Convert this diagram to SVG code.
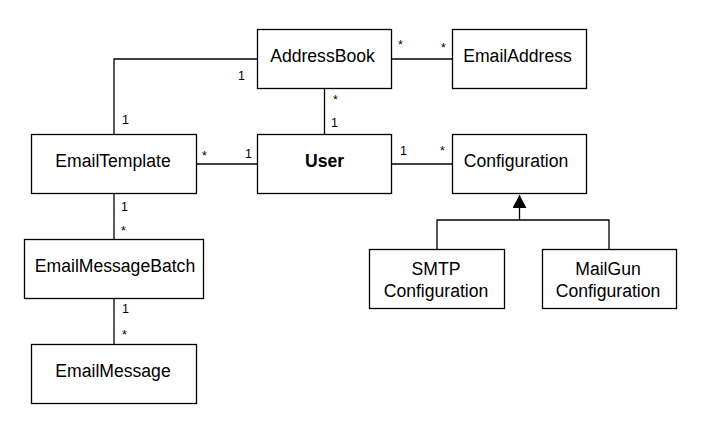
<svg xmlns="http://www.w3.org/2000/svg" width="709" height="433" viewBox="0 0 709 433">
<defs>
<style>
.box{fill:#fff;stroke:#000;stroke-width:1.3}
.lbl{font-family:"Liberation Sans",Arial,sans-serif;font-size:17.6px;fill:#000;text-anchor:middle}
.b{font-weight:bold}
.m{font-family:"Liberation Sans",Arial,sans-serif;font-size:12.5px;fill:#000}
.c{fill:none;stroke:#000;stroke-width:1.3}
</style>
<marker id="tri" viewBox="0 0 14 14" refX="13" refY="7" markerWidth="14" markerHeight="14" markerUnits="userSpaceOnUse" orient="auto">
<path d="M0,0 L13,7 L0,14 Z" fill="#000"/>
</marker>
</defs>
<rect width="709" height="433" fill="#fff"/>
<g id="connectors">
<path class="c" d="M392,59 H452"/>
<path class="c" d="M324.5,89 V134"/>
<path class="c" d="M197,164 H257"/>
<path class="c" d="M392,164 H452"/>
<path class="c" d="M114,134 V59 H257"/>
<path class="c" d="M114,194 V239"/>
<path class="c" d="M114,299 V344"/>
<path class="c" d="M437,249 V220 H609 V249"/>
<path class="c" d="M519.5,220 V195" marker-end="url(#tri)"/>
<text class="m" x="398" y="49">*</text>
<text class="m" x="441" y="52">*</text>
<text class="m" x="333" y="104">*</text>
<text class="m" x="331" y="127">1</text>
<text class="m" x="238" y="80">1</text>
<text class="m" x="122" y="124">1</text>
<text class="m" x="202" y="160">*</text>
<text class="m" x="245" y="158">1</text>
<text class="m" x="400" y="155">1</text>
<text class="m" x="440" y="155">*</text>
<text class="m" x="121" y="211">1</text>
<text class="m" x="121" y="235">*</text>
<text class="m" x="122" y="313">1</text>
<text class="m" x="122" y="339">*</text>
</g>
<g id="AddressBook"><rect class="box" x="257.5" y="29.5" width="134" height="59"/><text class="lbl" x="322.5" y="62">AddressBook</text></g>
<g id="EmailAddress"><rect class="box" x="452.5" y="29.5" width="134" height="59"/><text class="lbl" x="517.5" y="62">EmailAddress</text></g>
<g id="EmailTemplate"><rect class="box" x="31.5" y="134.5" width="165" height="59"/><text class="lbl" x="113" y="167">EmailTemplate</text></g>
<g id="User"><rect class="box" x="257.5" y="134.5" width="134" height="59"/><text class="lbl b" x="324.5" y="167">User</text></g>
<g id="Configuration"><rect class="box" x="452.5" y="134.5" width="134" height="59"/><text class="lbl" x="516" y="167">Configuration</text></g>
<g id="EmailMessageBatch"><rect class="box" x="24.5" y="239.5" width="179" height="59"/><text class="lbl" x="115" y="272">EmailMessageBatch</text></g>
<g id="EmailMessage"><rect class="box" x="31.5" y="344.5" width="165" height="59"/><text class="lbl" x="113" y="377">EmailMessage</text></g>
<g id="SMTPConfiguration"><rect class="box" x="369.5" y="249.5" width="135" height="59"/><text class="lbl" x="436" y="275">SMTP</text><text class="lbl" x="436" y="297">Configuration</text></g>
<g id="MailGunConfiguration"><rect class="box" x="542.5" y="249.5" width="134" height="59"/><text class="lbl" x="608" y="275">MailGun</text><text class="lbl" x="608" y="297">Configuration</text></g>
</svg>
